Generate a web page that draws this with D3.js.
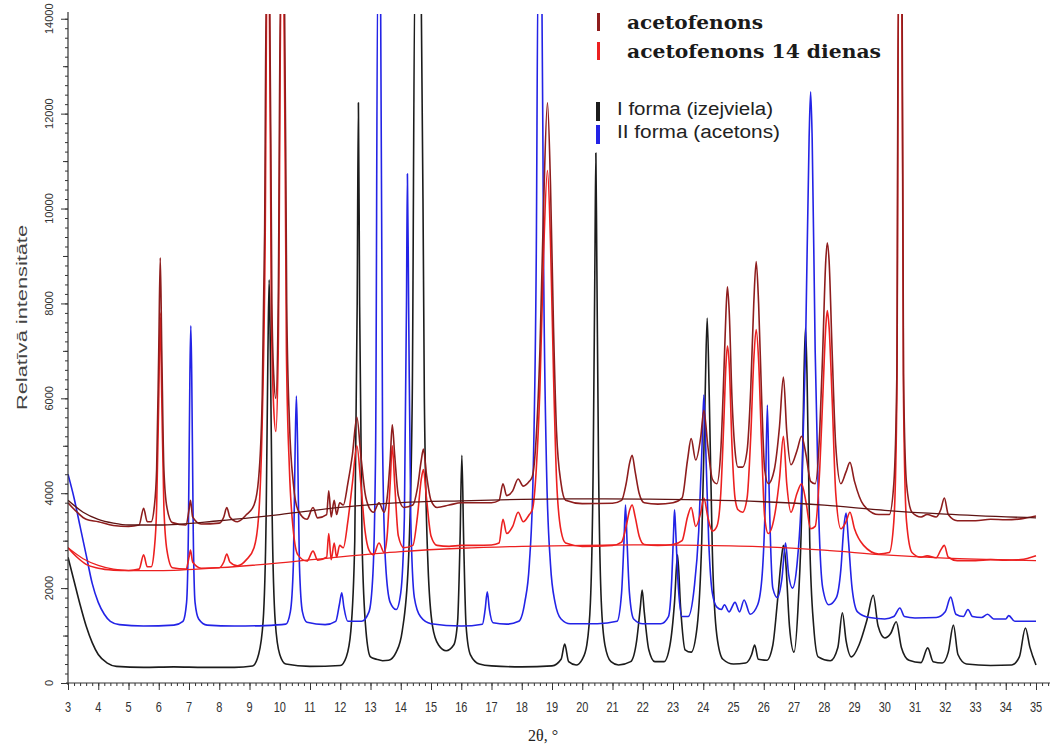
<!DOCTYPE html>
<html>
<head>
<meta charset="utf-8">
<script src="https://cdn.jsdelivr.net/npm/d3@7/dist/d3.min.js"></script>
<style>
body{margin:0;background:#fff;}
svg{display:block;}
</style>
</head>
<body>
<div id="chart"></div>
<script>
// tick labels
var xTicks=[3,4,5,6,7,8,9,10,11,12,13,14,15,16,17,18,19,20,21,22,23,24,25,26,27,28,29,30,31,32,33,34,35];
var yTicks=[0,2000,4000,6000,8000,10000,12000,14000];

// legend
var legendTop=["acetofenons","acetofenons 14 dienas"];
var legendBottom=["I forma (izejviela)","II forma (acetons)"];

// I forma (izejviela) - black
var formaI=[[3.0,2650],[3.2,2150],[3.4,1650],[3.6,1200],[3.8,850],[4.0,600],[4.3,420],[4.6,350],[5.5,330],[6.5,340],[7.5,330],[8.5,330],[9.1,360],[9.3,600],
  [9.45,1300],[9.55,3500],[9.61,7000],[9.65,8500],[9.69,7000],[9.75,3500],[9.85,1300],[10.0,600],[10.2,400],[11.0,350],[12.0,370],[12.2,550],[12.35,1100],
  [12.48,3000],[12.56,8000],[12.6,12230],[12.64,8000],[12.72,3000],[12.85,1100],[13.0,550],[13.2,500],[13.4,470],[13.6,480],[13.85,650],[14.05,1100],
  [14.25,2500],[14.38,6000],[14.47,15000],[14.57,14600],[14.67,15000],[14.78,6000],[14.9,2500],[15.05,1200],[15.25,800],[15.5,680],[15.75,800],[15.88,1300],
  [15.96,3000],[16.02,4800],[16.08,3000],[16.16,1200],[16.3,600],[16.6,400],[17.0,360],[18.0,340],[19.0,360],[19.3,500],[19.42,820],[19.55,450],[19.8,380],
  [20.0,500],[20.15,800],[20.27,1700],[20.36,4500],[20.42,9000],[20.45,11170],[20.48,9000],[20.54,4500],[20.63,1700],[20.75,800],[20.95,450],[21.2,380],
  [21.6,450],[21.8,900],[21.92,1600],[21.98,1960],[22.05,1500],[22.2,700],[22.4,450],[22.7,450],[22.9,800],[23.05,1700],[23.15,2700],[23.25,1600],[23.4,700],
  [23.6,650],[23.8,1200],[23.95,3000],[24.06,6000],[24.13,7690],[24.2,6000],[24.3,2800],[24.45,1000],[24.65,500],[25.0,400],[25.4,420],[25.6,600],[25.7,800],
  [25.82,500],[26.1,480],[26.3,800],[26.45,1700],[26.58,2600],[26.65,2900],[26.72,2600],[26.85,1200],[27.0,650],[27.15,1800],[27.25,3500],[27.33,6500],
  [27.38,7480],[27.43,6500],[27.52,3000],[27.65,1200],[27.8,550],[28.2,470],[28.45,750],[28.6,1480],[28.72,900],[28.9,550],[29.15,800],[29.4,1300],
  [29.62,1850],[29.78,1200],[30.0,950],[30.2,1050],[30.38,1290],[30.55,750],[30.8,480],[31.2,430],[31.42,740],[31.6,450],[31.9,420],[32.1,650],[32.27,1220],
  [32.42,600],[32.7,400],[33.5,370],[34.2,380],[34.45,550],[34.65,1160],[34.8,750],[35.0,380]];

// II forma (acetons) - blue
var formaII=[[3.0,4400],[3.2,3900],[3.4,3300],[3.6,2700],[3.8,2100],[4.0,1700],[4.2,1450],[4.4,1300],[4.7,1230],[5.5,1200],[6.5,1220],[6.8,1300],
  [6.92,1700],[6.98,3200],[7.03,6500],[7.06,7530],[7.09,6500],[7.14,3200],[7.2,1700],[7.32,1350],[7.6,1220],[8.5,1200],[9.5,1210],[10.2,1240],[10.35,1500],
  [10.45,2500],[10.51,5000],[10.55,6050],[10.59,5000],[10.65,2500],[10.75,1500],[10.9,1280],[11.5,1230],[11.85,1300],[11.97,1650],[12.05,1900],[12.12,1600],
  [12.25,1300],[12.7,1300],[12.95,1500],[13.08,2300],[13.17,5000],[13.24,15000],[13.33,15000],[13.4,5000],[13.5,2500],[13.65,1700],[13.85,1550],[14.0,1900],
  [14.12,3500],[14.19,8000],[14.22,10730],[14.26,8000],[14.33,3500],[14.45,1800],[14.65,1400],[15.0,1250],[16.0,1200],[16.7,1240],[16.79,1550],[16.86,1920],
  [16.93,1550],[17.05,1270],[17.5,1240],[17.9,1300],[18.1,1700],[18.25,2500],[18.38,4500],[18.48,9000],[18.54,15000],[18.66,15000],[18.72,9000],[18.82,4500],
  [18.95,2500],[19.1,1700],[19.3,1350],[19.6,1250],[20.5,1250],[21.15,1300],[21.3,1900],[21.38,3000],[21.43,3750],[21.48,3000],[21.56,1900],[21.7,1350],
  [22.0,1250],[22.6,1250],[22.85,1400],[22.96,2200],[23.02,3200],[23.05,3650],[23.09,3200],[23.16,2200],[23.3,1400],[23.5,1400],[23.7,2000],[23.85,3200],
  [23.96,5000],[24.02,6070],[24.08,5000],[24.18,3000],[24.3,1900],[24.45,1600],[24.6,1550],[24.7,1650],[24.85,1500],[25.05,1700],[25.2,1500],[25.35,1750],
  [25.55,1450],[25.8,1650],[25.95,2300],[26.05,3800],[26.12,5860],[26.18,4000],[26.3,2000],[26.45,1800],[26.6,2200],[26.72,2950],[26.82,2300],[26.95,2000],
  [27.1,2500],[27.25,4000],[27.38,7000],[27.5,11500],[27.55,12460],[27.6,11500],[27.7,7000],[27.82,3500],[27.95,2000],[28.15,1650],[28.4,1800],[28.55,2400],
  [28.65,3300],[28.72,3580],[28.8,3000],[28.92,2000],[29.1,1500],[29.5,1380],[30.0,1350],[30.3,1400],[30.5,1580],[30.65,1400],[31.0,1370],[31.7,1380],
  [32.0,1500],[32.18,1810],[32.35,1450],[32.6,1400],[32.75,1550],[32.9,1400],[33.2,1380],[33.4,1450],[33.6,1350],[34.0,1350],[34.1,1420],[34.3,1300],[35.0,1300]];

// acetofenons - dark red
var aceto=[[3.0,3800],[3.3,3600],[3.6,3450],[4.0,3400],[4.5,3320],[5.0,3300],[5.35,3330],[5.5,3680],[5.62,3400],[5.75,3400],[5.85,3700],[5.93,4500],
  [6.0,7000],[6.05,8960],[6.1,7000],[6.17,4500],[6.27,3700],[6.45,3380],[6.9,3330],[7.0,3650],[7.05,3850],[7.12,3500],[7.4,3350],[8.0,3370],[8.15,3500],
  [8.25,3700],[8.35,3500],[8.6,3400],[8.9,3550],[9.15,3750],[9.3,4300],[9.42,6000],[9.5,9500],[9.56,15000],[9.66,15000],[9.74,8000],[9.8,6500],[9.87,6000],
  [9.95,8000],[10.03,15000],[10.15,15000],[10.23,8000],[10.32,5500],[10.45,4200],[10.6,3650],[10.9,3450],[11.1,3700],[11.25,3480],[11.55,3550],[11.62,4050],
  [11.7,3500],[11.8,3850],[11.88,3550],[11.98,3800],[12.1,3750],[12.25,4200],[12.4,4800],[12.55,5600],[12.68,4800],[12.82,4000],[12.95,3700],[13.1,3600],
  [13.28,3800],[13.45,3600],[13.55,3900],[13.65,4700],[13.72,5440],[13.8,4800],[13.92,3950],[14.1,3700],[14.4,3750],[14.55,4100],[14.68,4700],[14.75,4930],
  [14.85,4400],[15.0,3850],[15.2,3700],[15.6,3750],[16.0,3800],[16.5,3800],[17.0,3800],[17.25,3850],[17.38,4200],[17.5,3950],[17.7,4050],[17.88,4300],
  [18.05,4150],[18.25,4250],[18.35,4350],[18.48,5200],[18.6,7000],[18.72,10000],[18.85,12230],[18.95,10500],[19.05,7500],[19.15,5300],[19.3,4200],[19.45,3850],
  [20.0,3780],[21.0,3790],[21.3,3850],[21.45,4200],[21.57,4650],[21.65,4800],[21.75,4450],[21.88,4000],[22.05,3800],[22.5,3770],[23.0,3800],[23.3,3900],
  [23.48,4700],[23.6,5150],[23.75,4700],[23.92,5200],[24.02,5750],[24.15,5000],[24.3,4300],[24.45,4200],[24.58,4900],[24.68,6500],[24.75,7800],[24.8,8350],
  [24.86,7800],[24.95,6000],[25.05,4900],[25.15,4550],[25.3,4550],[25.45,4900],[25.57,6200],[25.67,8000],[25.75,8880],[25.83,8000],[25.93,6000],[26.03,4500],
  [26.15,4200],[26.35,4500],[26.52,5400],[26.65,6450],[26.76,5300],[26.9,4600],[27.1,4900],[27.25,5200],[27.4,4800],[27.55,4250],[27.7,4200],[27.85,5300],
  [27.95,7000],[28.05,8900],[28.1,9280],[28.16,8900],[28.26,7000],[28.38,5000],[28.55,4200],[28.72,4450],[28.85,4650],[29.0,4250],[29.3,3750],[29.8,3550],
  [30.15,3550],[30.3,4200],[30.4,6500],[30.45,15000],[30.57,15000],[30.62,6500],[30.72,4200],[30.9,3600],[31.2,3500],[31.4,3550],[31.7,3500],[31.85,3650],
  [31.97,3900],[32.1,3550],[32.4,3420],[33.0,3420],[33.5,3450],[34.0,3440],[34.5,3460],[35.0,3520]];

// acetofenons 14 dienas - red
var aceto14=[[3.0,2850],[3.3,2650],[3.6,2500],[4.0,2420],[4.5,2380],[5.0,2370],[5.35,2400],[5.5,2700],[5.62,2450],[5.75,2450],[5.85,2800],[5.93,3700],
  [6.0,6000],[6.05,7800],[6.1,6000],[6.17,3700],[6.27,2800],[6.45,2430],[6.9,2400],[7.0,2650],[7.05,2800],[7.12,2550],[7.4,2420],[8.0,2430],[8.15,2550],
  [8.25,2720],[8.35,2550],[8.6,2470],[8.9,2600],[9.15,2850],[9.3,3500],[9.42,5500],[9.52,9500],[9.58,15000],[9.65,15000],[9.72,8000],[9.8,5800],[9.87,5300],
  [9.95,7000],[10.05,15000],[10.13,15000],[10.22,7000],[10.32,4500],[10.45,3200],[10.6,2700],[10.9,2570],[11.1,2780],[11.25,2590],[11.55,2650],[11.62,3150],
  [11.7,2600],[11.8,2950],[11.88,2650],[11.98,2900],[12.1,2850],[12.25,3400],[12.4,4200],[12.55,5000],[12.68,4200],[12.82,3200],[12.95,2800],[13.1,2700],
  [13.28,2950],[13.45,2750],[13.55,3100],[13.65,4200],[13.72,5000],[13.8,4200],[13.92,3100],[14.1,2850],[14.4,2900],[14.55,3500],[14.68,4300],[14.75,4500],
  [14.85,3900],[15.0,3100],[15.2,2900],[15.6,2880],[16.0,2900],[16.5,2900],[17.0,2910],[17.25,2950],[17.38,3450],[17.5,3150],[17.7,3300],[17.88,3600],
  [18.05,3400],[18.25,3550],[18.35,3650],[18.48,4500],[18.6,6200],[18.72,9000],[18.85,10800],[18.95,9300],[19.05,6500],[19.15,4300],[19.3,3200],[19.45,2950],
  [20.0,2880],[21.0,2900],[21.3,2970],[21.45,3300],[21.57,3650],[21.65,3750],[21.75,3500],[21.88,3100],[22.05,2920],[22.5,2900],[23.0,2920],[23.3,3000],
  [23.48,3500],[23.6,3700],[23.75,3300],[23.92,3600],[24.02,3900],[24.15,3500],[24.3,3200],[24.45,3300],[24.58,4000],[24.68,5500],[24.75,6700],[24.8,7100],
  [24.86,6700],[24.95,5000],[25.05,3900],[25.15,3650],[25.3,3600],[25.45,3900],[25.57,5200],[25.67,6800],[25.75,7450],[25.83,6800],[25.93,5000],[26.03,3500],
  [26.15,3150],[26.35,3500],[26.52,4300],[26.65,5200],[26.76,4200],[26.9,3600],[27.1,4000],[27.25,4200],[27.4,3800],[27.55,3250],[27.7,3300],[27.85,4500],
  [27.95,6000],[28.05,7500],[28.1,7850],[28.16,7500],[28.26,6000],[28.38,4000],[28.55,3250],[28.72,3400],[28.85,3600],[29.0,3250],[29.3,2900],[29.8,2720],
  [30.15,2750],[30.3,3400],[30.4,6000],[30.46,15000],[30.56,15000],[30.62,6000],[30.72,3400],[30.9,2750],[31.2,2650],[31.4,2680],[31.7,2640],[31.85,2800],
  [31.97,2900],[32.1,2650],[32.4,2580],[33.0,2580],[33.5,2600],[34.0,2590],[34.5,2600],[35.0,2680]];

// background curves
var acetoBase=[[3,3850],[3.5,3600],[4,3450],[4.5,3370],[5,3330],[6,3330],[8,3420],[10,3550],[12,3700],[14,3800],[16,3840],[18,3870],[20,3880],[22,3875],[24,3860],[26,3820],[28,3750],[30,3640],[32,3560],[35,3480]];
var aceto14Base=[[3,2850],[3.5,2620],[4,2480],[4.5,2400],[5,2370],[6,2370],[8,2430],[10,2530],[12,2660],[14,2770],[16,2840],[18,2880],[20,2900],[22,2910],[24,2900],[26,2870],[28,2800],[30,2700],[32,2630],[35,2580]];

var colBlack="#1c1c1c", colBlue="#2323e6", colRed="#ec2020", colDark="#8e1d1d";

var width=1057, height=747;
var svg=d3.select("#chart").append("svg")
  .attr("width",width)
  .attr("height",height);

var x=d3.scaleLinear().domain([3,35]).range([68,1036]);
var y=d3.scaleLinear().domain([0,14100]).range([683,14]);

svg.append("clipPath").attr("id","clip")
  .append("rect").attr("x",68).attr("y",14).attr("width",980).attr("height",669);

var line=d3.line()
  .x(function(d){ return x(d[0]); })
  .y(function(d){ return y(d[1]); })
  .curve(d3.curveMonotoneX);

var plot=svg.append("g").attr("clip-path","url(#clip)");

var series=[
  {data:formaI,col:colBlack},
  {data:formaII,col:colBlue},
  {data:aceto14,col:colRed},
  {data:aceto,col:colDark}
];
series.forEach(function(s){
  plot.append("path")
    .attr("d",line(s.data))
    .attr("fill","none")
    .attr("stroke",s.col)
    .attr("stroke-width",1.6)
    .attr("stroke-linejoin","round");
});
plot.append("path").attr("d",line(aceto14Base))
  .attr("fill","none").attr("stroke",colRed).attr("stroke-width",1.3);
plot.append("path").attr("d",line(acetoBase))
  .attr("fill","none").attr("stroke","#5e1414").attr("stroke-width",1.3);

// x axis
var xAxis=svg.append("g").attr("transform","translate(0,683)");
xAxis.append("line").attr("x1",66).attr("x2",1050).attr("stroke","#333").attr("stroke-width",1.2);
xAxis.call(d3.axisBottom(x).tickValues(d3.range(3,35.5,0.2)).tickSize(3).tickFormat(""))
  .select(".domain").remove();
xAxis.append("g").call(d3.axisBottom(x).tickValues(xTicks).tickSize(7).tickFormat(""))
  .select(".domain").remove();
xAxis.selectAll(".tick line").attr("stroke","#333");
svg.selectAll(".xlab").data(xTicks).enter().append("text")
  .attr("class","xlab")
  .attr("transform",function(d){ return "translate("+x(d)+",712) scale(1,1.3)"; })
  .attr("text-anchor","middle")
  .style("font-family","Liberation Sans, Arial, sans-serif")
  .style("font-size","11px")
  .style("fill","#333")
  .text(function(d){ return d; });

// y axis
var yAxis=svg.append("g").attr("transform","translate(68,0)");
yAxis.append("line").attr("y1",685).attr("y2",12).attr("stroke","#333").attr("stroke-width",1.2);
yAxis.call(d3.axisLeft(y).tickValues(d3.range(0,14101,200)).tickSize(3).tickFormat(""))
  .select(".domain").remove();
yAxis.append("g").call(d3.axisLeft(y).tickValues(d3.range(1000,14001,2000)).tickSize(5).tickFormat(""))
  .select(".domain").remove();
yAxis.append("g").call(d3.axisLeft(y).tickValues(yTicks).tickSize(7).tickFormat(""))
  .select(".domain").remove();
yAxis.selectAll(".tick line").attr("stroke","#333");
svg.selectAll(".ylab").data(yTicks).enter().append("text")
  .attr("class","ylab")
  .attr("transform",function(d){ return "translate(53,"+y(d)+") rotate(-90)"; })
  .attr("text-anchor","middle")
  .style("font-family","Liberation Sans, Arial, sans-serif")
  .style("font-size","11px")
  .style("fill","#333")
  .text(function(d){ return d; });

// axis titles
svg.append("text")
  .attr("transform","translate(27,318) rotate(-90)")
  .attr("x",-92)
  .attr("textLength",185)
  .attr("lengthAdjust","spacingAndGlyphs")
  .style("font-family","Liberation Sans, Arial, sans-serif")
  .style("font-size","15px")
  .style("fill","#444")
  .text("Relatīvā intensitāte");
svg.append("text")
  .attr("x",528).attr("y",741)
  .style("font-family","Liberation Serif, Times New Roman, serif")
  .style("font-size","16px")
  .style("fill","#222")
  .text("2θ, °");

// legend
var legA=[{t:legendTop[0],c:colDark,y:29,w:136},{t:legendTop[1],c:colRed,y:58,w:254}];
legA.forEach(function(l){
  svg.append("rect").attr("x",597).attr("y",l.y-16).attr("width",3).attr("height",18).attr("fill",l.c);
  svg.append("text").attr("x",627).attr("y",l.y)
    .attr("textLength",l.w).attr("lengthAdjust","spacingAndGlyphs")
    .style("font-family","DejaVu Serif, serif").style("font-weight","bold")
    .style("font-size","19px").style("fill","#1a1a1a")
    .text(l.t);
});
var legB=[{t:legendBottom[0],c:colBlack,y:115,w:156},{t:legendBottom[1],c:colBlue,y:138,w:163}];
legB.forEach(function(l){
  svg.append("rect").attr("x",596).attr("y",l.y-13).attr("width",4).attr("height",19).attr("fill",l.c);
  svg.append("text").attr("x",617).attr("y",l.y)
    .attr("textLength",l.w).attr("lengthAdjust","spacingAndGlyphs")
    .style("font-family","Liberation Sans, Arial, sans-serif")
    .style("font-size","18px").style("fill","#222")
    .text(l.t);
});
</script>
</body>
</html>
